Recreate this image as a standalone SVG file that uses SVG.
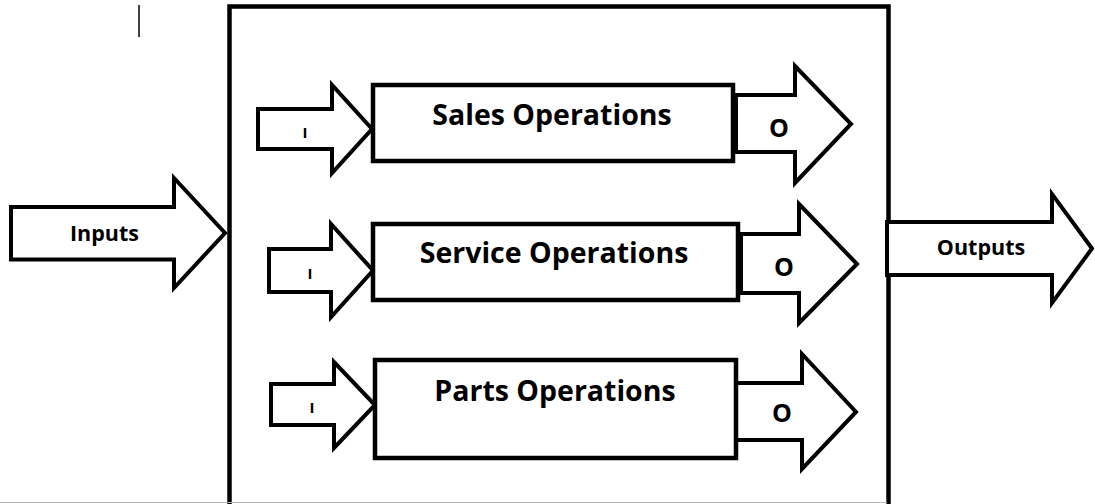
<svg xmlns="http://www.w3.org/2000/svg" width="1095" height="504" viewBox="0 0 1095 504">
  <style>
    .edge { fill: #ffffff; stroke: #000000; stroke-width: 4.5; stroke-linejoin: miter; }
    .flow { fill: #ffffff; stroke: #000000; stroke-width: 4; stroke-linejoin: miter; }
    .lbl  { font-family: "Open Sans", Lato, "Liberation Sans", sans-serif; font-weight: bold; fill: #000000; text-anchor: middle; }
    .big  { font-size: 28.5px; }
    .mid  { font-size: 21.5px; }
    .io   { font-size: 25px; }
    .tiny { font-size: 15px; }
  </style>

  <rect width="1095" height="504" fill="#ffffff"/>

  <!-- text cursor mark -->
  <line x1="139" y1="5" x2="139" y2="37" stroke="#000000" stroke-width="1.5"/>

  <!-- enclosing system boundary -->
  <g id="system">
    <rect class="edge" x="229.5" y="6.5" width="659" height="520" fill="none"/>
  </g>

  <!-- block arrows: external inputs/outputs and per-operation I/O -->
  <g id="connectors">
    <g id="inputs">
      <polygon class="flow" points="11,207 174,207 174,178 225,233 174,288 174,259.5 11,259.5"/>
      <text class="lbl mid" x="104.5" y="241">Inputs</text>
    </g>
    <g id="outputs">
      <polygon class="flow" points="887,222 1052,222 1052,194 1092,248.5 1052,303 1052,275 887,275"/>
      <text class="lbl mid" x="981" y="255">Outputs</text>
    </g>

    <g id="sales-in">
      <polygon class="flow" points="258,109 332,109 332,85 372,129 332,173 332,149 258,149"/>
      <text class="lbl tiny" x="305" y="138">I</text>
    </g>
    <g id="sales-out">
      <polygon class="flow" points="736,95 795,95 795,66 851,124 795,183 795,152 736,152"/>
      <text class="lbl io" x="779" y="137">O</text>
    </g>

    <g id="service-in">
      <polygon class="flow" points="269,249 331,249 331,224 373,270.5 331,317 331,292 269,292"/>
      <text class="lbl tiny" x="310" y="279">I</text>
    </g>
    <g id="service-out">
      <polygon class="flow" points="741,234 799,234 799,204 857,264 799,323 799,293 741,293"/>
      <text class="lbl io" x="784" y="276">O</text>
    </g>

    <g id="parts-in">
      <polygon class="flow" points="271,384 334,384 334,362 375,405 334,448 334,425 271,425"/>
      <text class="lbl tiny" x="312" y="413">I</text>
    </g>
    <g id="parts-out">
      <polygon class="flow" points="736,383 802,383 802,354 856,412 802,469 802,440 736,440"/>
      <text class="lbl io" x="782" y="422">O</text>
    </g>
  </g>

  <!-- operation blocks -->
  <g id="sales">
    <rect class="edge" x="373" y="85" width="360" height="76"/>
    <text class="lbl big" x="552" y="125">Sales Operations</text>
  </g>
  <g id="service">
    <rect class="edge" x="373" y="224" width="365" height="76"/>
    <text class="lbl big" x="554" y="263">Service Operations</text>
  </g>
  <g id="parts">
    <rect class="edge" x="375" y="360" width="361" height="98"/>
    <text class="lbl big" x="555" y="401">Parts Operations</text>
  </g>

  <!-- lower crop edge -->
  <line x1="0" y1="502.5" x2="887" y2="502.5" stroke="#b4b4b4" stroke-width="1"/>
</svg>
